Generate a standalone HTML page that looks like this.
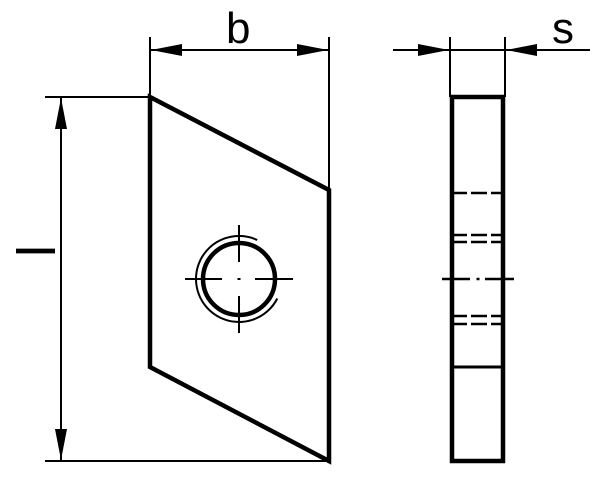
<!DOCTYPE html>
<html><head><style>html,body{margin:0;padding:0;background:#fff}svg{display:block}</style></head>
<body>
<svg width="600" height="477" viewBox="0 0 600 477" xmlns="http://www.w3.org/2000/svg">
<g stroke="#000" fill="none" stroke-linecap="butt">
  <polygon points="150,97 329,190 329,461 150,367" stroke-width="4.5" stroke-linejoin="miter"/>
  <line x1="150" y1="37" x2="150" y2="97" stroke-width="2"/>
  <line x1="329" y1="37" x2="329" y2="190" stroke-width="2"/>
  <line x1="45" y1="97" x2="150" y2="97" stroke-width="2"/>
  <line x1="45" y1="461" x2="329" y2="461" stroke-width="2"/>
  <line x1="150" y1="50" x2="329" y2="50" stroke-width="2"/>
  <line x1="61" y1="97" x2="61" y2="461" stroke-width="2"/>
  <line x1="450" y1="37" x2="450" y2="97" stroke-width="2"/>
  <line x1="505" y1="37" x2="505" y2="97" stroke-width="2"/>
  <line x1="393" y1="50" x2="590" y2="50" stroke-width="2"/>
  <circle cx="239" cy="279" r="36" stroke-width="4.5"/>
  <path d="M257.2,240 A43,43 0 1 0 277.3,298.5" stroke-width="2"/>
  <g stroke-width="2">
    <line x1="185" y1="279" x2="222" y2="279"/>
    <line x1="237.5" y1="279" x2="240.5" y2="279"/>
    <line x1="255" y1="279" x2="293" y2="279"/>
    <line x1="239" y1="225" x2="239" y2="262"/>
    <line x1="239" y1="296" x2="239" y2="333"/>
  </g>
  <rect x="452" y="97" width="51" height="364" stroke-width="4.5"/>
  <line x1="452" y1="367" x2="503" y2="367" stroke-width="3"/>
  <g stroke-width="2.5">
    <path d="M454,193H467M471,193H487M491,193H502"/>
    <path d="M454,235H467M471,235H487M491,235H502"/>
    <path d="M454,242H467M471,242H487M491,242H502"/>
    <path d="M454,316H467M471,316H487M491,316H502"/>
    <path d="M454,324H467M471,324H487M491,324H502"/>
    <path d="M442,279H470M476.5,279H479.5M485,279H514"/>
  </g>
</g>
<g fill="#000">
  <polygon points="151,50 182,44 182,56"/>
  <polygon points="328,50 297,44 297,56"/>
  <polygon points="61,98 55,129 67,129"/>
  <polygon points="61,460 55,429 67,429"/>
  <polygon points="449,50 418,44 418,56"/>
  <polygon points="506,50 537,44 537,56"/>
</g>
<g font-family="Liberation Sans, sans-serif" fill="#000">
  <text x="226" y="43" font-size="44">b</text>
  <text x="552" y="43" font-size="44">s</text>
  <text x="0" y="0" font-size="54" transform="translate(16,245) rotate(90)">l</text>
</g>
</svg>
</body></html>
